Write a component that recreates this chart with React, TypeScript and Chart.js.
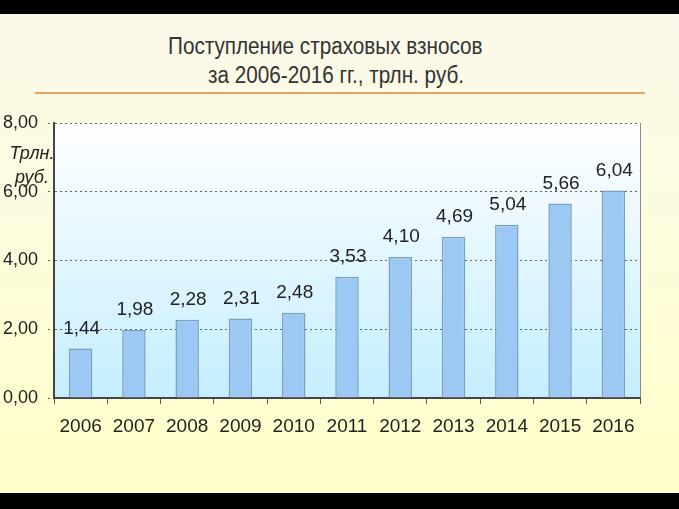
import React, { useEffect, useRef } from "react";
import { Chart, registerables } from "chart.js";

Chart.register(...registerables);

const years = ["2006", "2007", "2008", "2009", "2010", "2011", "2012", "2013", "2014", "2015", "2016"];
const values = [1.44, 1.98, 2.28, 2.31, 2.48, 3.53, 4.1, 4.69, 5.04, 5.66, 6.04];
const yTicks = [0, 2, 4, 6, 8];
const titleLines = ["Поступление страховых взносов", "за 2006-2016 гг., трлн. руб."];
const unitLines = ["Трлн.", "руб."];

const fmt = (v: number) => v.toFixed(2).replace(".", ",");
const FONT = '"Liberation Sans", Arial, sans-serif';

const plotBg = {
  id: "plotBg",
  beforeDraw(chart: any) {
    const { ctx, chartArea: a } = chart;
    const g = ctx.createLinearGradient(0, a.top, 0, a.bottom);
    g.addColorStop(0, "#ffffff");
    g.addColorStop(1, "#c4eeff");
    ctx.save();
    ctx.fillStyle = g;
    ctx.fillRect(a.left, a.top, a.right - a.left, a.bottom - a.top);
    ctx.restore();
  },
  afterDraw(chart: any) {
    const { ctx, chartArea: a } = chart;
    ctx.save();
    ctx.strokeStyle = "#8a8a8a";
    ctx.lineWidth = 1;
    ctx.beginPath();
    ctx.moveTo(a.right + 0.5, a.top);
    ctx.lineTo(a.right + 0.5, a.bottom);
    ctx.stroke();
    ctx.restore();
  },
};

const dataLabels = {
  id: "dataLabels",
  afterDatasetsDraw(chart: any) {
    const { ctx } = chart;
    const meta = chart.getDatasetMeta(0);
    ctx.save();
    ctx.font = "19px " + FONT;
    ctx.fillStyle = "#222222";
    ctx.textAlign = "center";
    ctx.textBaseline = "middle";
    meta.data.forEach((bar: any, i: number) => {
      ctx.fillText(fmt(values[i]), bar.x + 1, bar.y - 20);
    });
    ctx.restore();
  },
};

export default function App() {
  const ref = useRef<HTMLCanvasElement>(null);
  useEffect(() => {
    document.body.style.margin = "0";
    const chart = new Chart(ref.current!, {
      type: "bar",
      data: {
        labels: years,
        datasets: [
          {
            data: values,
            backgroundColor: "#9cc8f4",
            borderColor: "#7d9dbd",
            borderWidth: 1.5,
            barPercentage: 0.44,
            categoryPercentage: 1,
          },
        ],
      },
      options: {
        animation: false,
        responsive: false,
        maintainAspectRatio: false,
        layout: { padding: { top: 123, right: 39, bottom: 61, left: 0 } },
        plugins: { legend: { display: false }, tooltip: { enabled: false }, title: { display: false } },
        scales: {
          x: {
            afterFit: (s: any) => {
              s.height = 50;
            },
            grid: {
              display: true,
              drawOnChartArea: false,
              drawTicks: true,
              tickLength: 6,
              color: "#555555",
              offset: true,
            },
            border: { display: true, color: "#444444", width: 2 },
            ticks: {
              color: "#222222",
              font: { size: 19, family: FONT },
              padding: 11,
            },
          },
          y: {
            min: 0,
            max: 8,
            afterFit: (s: any) => {
              s.width = 54;
            },
            afterBuildTicks: (s: any) => {
              s.ticks = yTicks.map((v) => ({ value: v }));
            },
            grid: {
              display: true,
              color: "#666666",
              tickLength: 6,
              lineWidth: 1,
              tickBorderDash: [2, 3],
            },
            border: { display: true, color: "#444444", width: 2, dash: [2, 3] },
            ticks: {
              color: "#222222",
              font: { size: 18, family: FONT },
              padding: 10,
              callback: (v: any) => fmt(Number(v)),
            },
          },
        },
      },
      plugins: [plotBg, dataLabels],
    } as any);
    return () => chart.destroy();
  }, []);

  return (
    <div style={{ position: "fixed", left: 0, top: 0, width: 679, height: 509, background: "#000", overflow: "hidden" }}>
      <div
        style={{
          position: "absolute",
          left: 0,
          top: 14,
          width: 679,
          height: 479,
          background: "linear-gradient(to bottom, #fcf9ea 0%, #fdfcdc 50%, #ffffc8 100%)",
        }}
      />
      <div
        style={{
          position: "absolute",
          left: 0,
          top: 32,
          width: 679,
          fontFamily: FONT,
          fontSize: 23,
          color: "#333333",
          lineHeight: "29px",
        }}
      >
        <div style={{ position: "absolute", left: 168, top: 0, whiteSpace: "nowrap", transform: "scaleX(0.9)", transformOrigin: "0 0" }}>
          {titleLines[0]}
        </div>
        <div style={{ position: "absolute", left: 208, top: 29, whiteSpace: "nowrap", transform: "scaleX(0.9)", transformOrigin: "0 0" }}>
          {titleLines[1]}
        </div>
      </div>
      <div style={{ position: "absolute", left: 35, top: 92, width: 610, height: 2, background: "#eca466" }} />
      <canvas ref={ref} width={679} height={509} style={{ position: "absolute", left: 0, top: 0 }} />
      <div
        style={{
          position: "absolute",
          left: 3,
          top: 141,
          width: 58,
          textAlign: "center",
          fontFamily: FONT,
          fontStyle: "italic",
          fontSize: 18,
          lineHeight: "24px",
          color: "#222222",
        }}
      >
        <div>{unitLines[0]}</div>
        <div>{unitLines[1]}</div>
      </div>
    </div>
  );
}
